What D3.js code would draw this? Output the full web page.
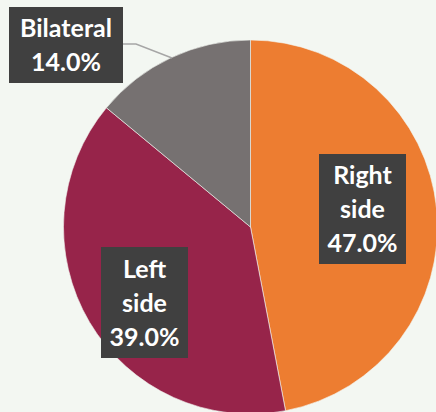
<!DOCTYPE html>
<html>
<head>
<meta charset="utf-8">
<script src="https://cdn.jsdelivr.net/npm/d3@7"></script>
<style>
  html, body { margin: 0; padding: 0; background: #f3f7f2; }
  svg { display: block; }
</style>
</head>
<body>
<script>
// Side of involvement, share of cases
const categories = ["Right side", "Left side", "Bilateral"];
const shares = [47.0, 39.0, 14.0];
const labelLines = [["Right", "side"], ["Left", "side"], ["Bilateral"]];
const sliceColors = ["#ed7d31", "#97244a", "#767171"];

const width = 436, height = 412;
const cx = 250.5, cy = 227, radius = 187;

const svg = d3.select("body").append("svg")
  .attr("width", width).attr("height", height);

svg.append("rect").attr("width", width).attr("height", height).attr("fill", "#f3f7f2");

const data = categories.map((c, i) => ({ name: c, value: shares[i], lines: labelLines[i], color: sliceColors[i] }));

const pie = d3.pie().value(d => d.value).sort(null);
const arc = d3.arc().innerRadius(0).outerRadius(radius);
const arcs = pie(data);

const g = svg.append("g").attr("transform", `translate(${cx},${cy})`);

g.selectAll("path.slice").data(arcs).join("path")
  .attr("class", "slice")
  .attr("d", arc)
  .attr("fill", d => d.data.color)
  .attr("stroke", "#f3f7f2")
  .attr("stroke-width", 0.6);

// Label boxes
const fmt = d3.format(".1f");
const boxes = [
  { x: 319, y: 154, w: 87, h: 110 },
  { x: 101, y: 247, w: 87, h: 111 },
  { x: 9, y: 7, w: 114, h: 76 }
];
const fontSize = 25;
const lineGap = 34;

// Leader line for the small slice
svg.append("polyline")
  .attr("points", [[123, 44], [136, 44], [172, 58]].map(p => p.join(",")).join(" "))
  .attr("fill", "none")
  .attr("stroke", "#a6a6a6")
  .attr("stroke-width", 1.5);

arcs.forEach((a, i) => {
  const b = boxes[i];
  svg.append("rect")
    .attr("x", b.x).attr("y", b.y).attr("width", b.w).attr("height", b.h)
    .attr("fill", "#404040");
  const lines = a.data.lines.concat([fmt(a.data.value) + "%"]);
  const n = lines.length;
  const midY = b.y + b.h / 2;
  const t = svg.append("text")
    .attr("text-anchor", "middle")
    .attr("font-family", "Lato, 'Open Sans', sans-serif")
    .attr("font-weight", "bold")
    .attr("font-size", fontSize)
    .attr("fill", "#ffffff");
  lines.forEach((ln, k) => {
    t.append("tspan")
      .attr("x", b.x + b.w / 2)
      .attr("y", midY + (k - (n - 1) / 2) * lineGap)
      .attr("dy", "0.36em")
      .text(ln);
  });
});
</script>
</body>
</html>
